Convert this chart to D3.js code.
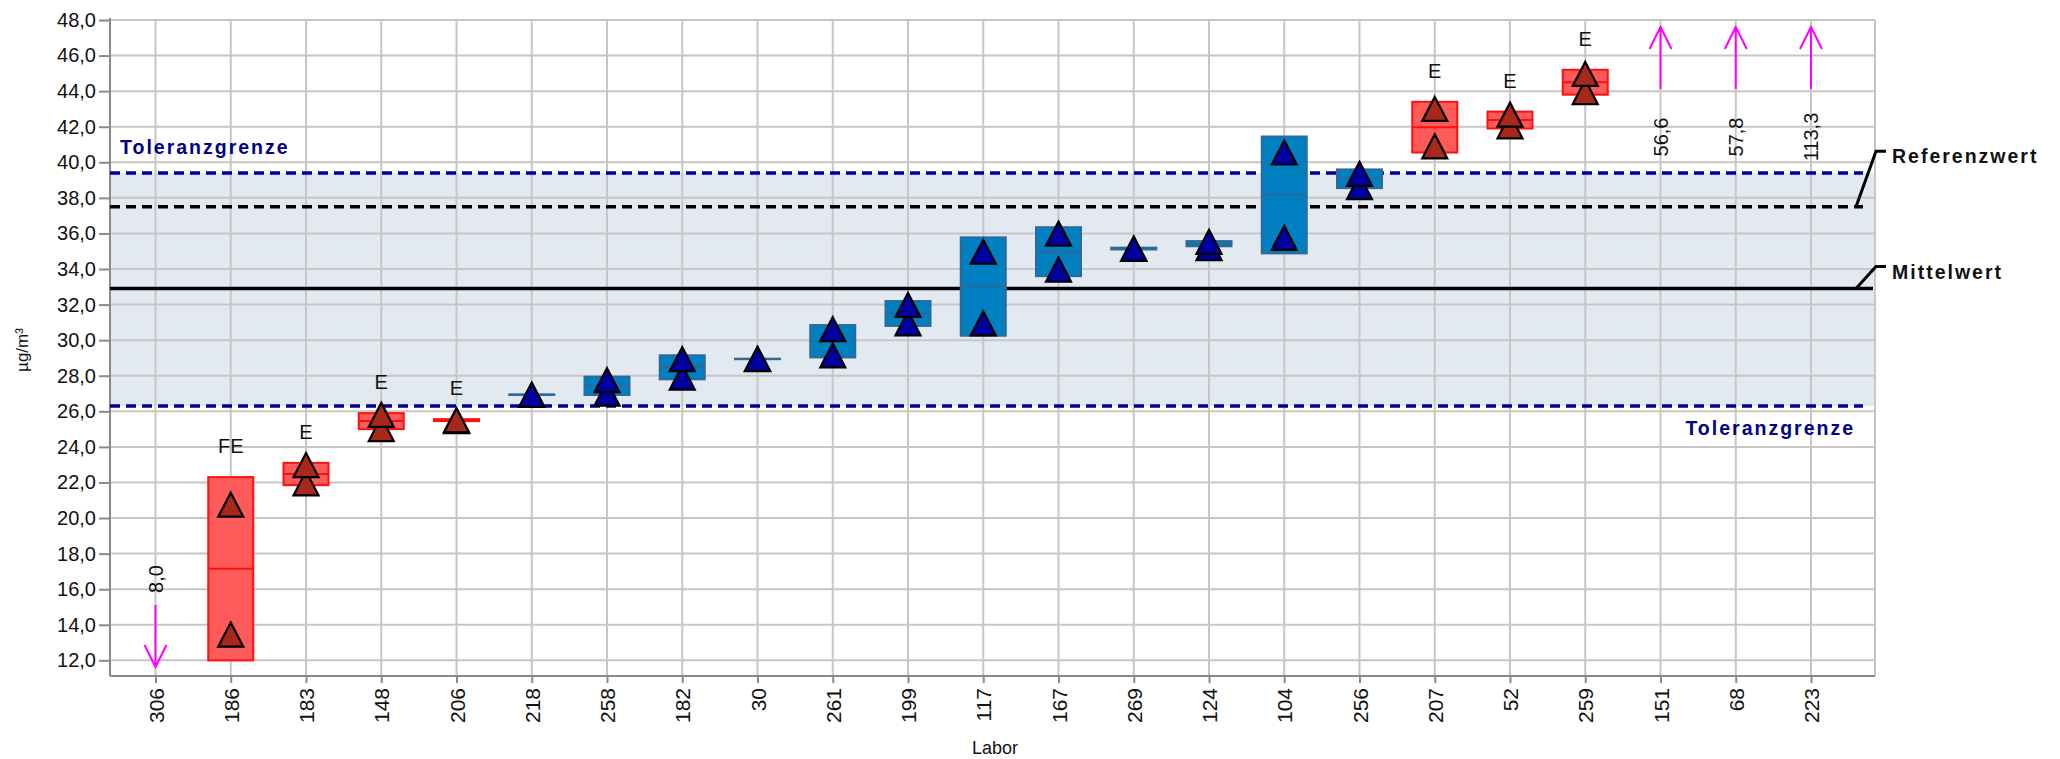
<!DOCTYPE html>
<html>
<head>
<meta charset="utf-8">
<script src="https://cdn.jsdelivr.net/npm/d3@7"></script>
<style>
  html, body { margin: 0; padding: 0; background: #fff; }
  text { font-family: "Liberation Sans", Arial, sans-serif; }
</style>
</head>
<body>
<svg id="chart" width="2060" height="759"></svg>
<script>
// Laboratories in plotted order
const labs = ["306","186","183","148","206","218","258","182","30","261","199","117","167","269","124","104","256","207","52","259","151","68","223"];
// Two single results per laboratory (null = off scale)
const resultA = [null,20.75,22.98,25.8,25.5,26.93,27.75,28.93,28.95,30.62,31.98,34.97,35.99,35.15,35.53,40.55,39.35,43.0,42.68,44.97,null,null,null];
const resultB = [null,13.45,21.95,25.0,25.45,26.93,27.0,27.9,28.94,29.15,30.95,30.94,33.97,35.13,35.18,35.75,38.6,40.9,42.02,43.95,null,null,null];
// Lower / upper end of each laboratory box
const boxLow  = [null,12.0,21.85,25.0,25.45,26.92,26.92,27.8,28.93,29.03,30.8,30.25,33.6,35.1,35.28,34.88,38.55,40.55,41.9,43.8,null,null,null];
const boxHigh = [null,22.3,23.1,25.9,25.56,26.95,27.95,29.15,28.96,30.85,32.2,35.78,36.35,35.2,35.57,41.45,39.6,43.4,42.85,45.2,null,null,null];
// Flags shown above the box
const flags = ["","FE","E","E","E","","","","","","","","","","","","","E","E","E","","",""];
// Off-scale results, drawn as arrows with their value
const offScale = [8.0,null,null,null,null,null,null,null,null,null,null,null,null,null,null,null,null,null,null,null,56.6,57.8,113.3];
// Reference lines
const mittelwert = 32.9;
const referenzwert = 37.5;
const toleranzUnten = 26.3;
const toleranzOben = 39.4;
// Y axis ticks
const yTicks = [12,14,16,18,20,22,24,26,28,30,32,34,36,38,40,42,44,46,48];

const svg = d3.select("#chart");
const plot = {left: 110, right: 1875, top: 20, bottom: 676};
const lineEnd = 1863;

const x = d3.scalePoint().domain(labs).range([155.5, 1811]);
const y = d3.scaleLinear().domain([11.12, 48]).range([plot.bottom, plot.top]);
const fmt = v => d3.format(".1f")(v).replace(".", ",");

// tolerance band
svg.append("rect")
  .attr("x", plot.left).attr("width", plot.right - plot.left)
  .attr("y", y(toleranzOben)).attr("height", y(toleranzUnten) - y(toleranzOben))
  .attr("fill", "#e3e9f0");

// grid
const grid = svg.append("g").attr("stroke", "#c6c6c6").attr("stroke-width", 2);
grid.selectAll("line.h").data(yTicks).join("line")
  .attr("x1", plot.left).attr("x2", plot.right)
  .attr("y1", d => y(d)).attr("y2", d => y(d));
grid.selectAll("line.v").data(labs).join("line")
  .attr("x1", d => x(d)).attr("x2", d => x(d))
  .attr("y1", plot.top).attr("y2", plot.bottom);
grid.append("line").attr("x1", plot.right).attr("x2", plot.right).attr("y1", plot.top).attr("y2", plot.bottom);

// axes
const yAxis = svg.append("g").attr("transform", `translate(${plot.left},0)`)
  .call(d3.axisLeft(y).tickValues(yTicks).tickFormat(fmt).tickSize(11).tickPadding(3));
yAxis.select(".domain").remove();
yAxis.append("line").attr("x1", 0).attr("x2", 0).attr("y1", plot.top - 2).attr("y2", plot.bottom).attr("stroke", "#8a8a8a").attr("stroke-width", 2);
yAxis.selectAll(".tick line").attr("stroke", "#8a8a8a").attr("stroke-width", 2);
yAxis.selectAll(".tick text").attr("font-size", 20).attr("fill", "#111");

const xAxis = svg.append("g").attr("transform", `translate(0,${plot.bottom})`)
  .call(d3.axisBottom(x).tickSize(7).tickPadding(0));
xAxis.select(".domain").remove();
xAxis.append("line").attr("x1", plot.left).attr("x2", plot.right).attr("y1", 0).attr("y2", 0).attr("stroke", "#8a8a8a").attr("stroke-width", 2);
xAxis.selectAll(".tick line").attr("stroke", "#8a8a8a").attr("stroke-width", 2);
xAxis.selectAll(".tick text")
  .attr("font-size", 21).attr("fill", "#111")
  .attr("text-anchor", "end").attr("dy", null)
  .attr("dominant-baseline", "central")
  .attr("transform", "translate(0,12) rotate(-90)")
  .attr("x", 0).attr("y", 0);

svg.append("text").attr("x", 995).attr("y", 754).attr("text-anchor", "middle")
  .attr("font-size", 18).attr("fill", "#111").text("Labor");
svg.append("text").attr("transform", "translate(28,350) rotate(-90)").attr("text-anchor", "middle")
  .attr("font-size", 17).attr("fill", "#111").text("µg/m³");

// reference lines
svg.append("line").attr("x1", plot.left).attr("x2", lineEnd)
  .attr("y1", y(toleranzOben)).attr("y2", y(toleranzOben))
  .attr("stroke", "#000099").attr("stroke-width", 3.5).attr("stroke-dasharray", "10,6");
svg.append("line").attr("x1", plot.left).attr("x2", lineEnd)
  .attr("y1", y(toleranzUnten)).attr("y2", y(toleranzUnten))
  .attr("stroke", "#000099").attr("stroke-width", 3.5).attr("stroke-dasharray", "10,6");
svg.append("line").attr("x1", plot.left).attr("x2", lineEnd)
  .attr("y1", y(referenzwert)).attr("y2", y(referenzwert))
  .attr("stroke", "#000").attr("stroke-width", 3.5).attr("stroke-dasharray", "10,6");
svg.append("line").attr("x1", plot.left).attr("x2", plot.right - 2)
  .attr("y1", y(mittelwert)).attr("y2", y(mittelwert))
  .attr("stroke", "#000").attr("stroke-width", 3.5);

// labels of the reference lines
const boldLabel = (sel) => sel.attr("font-size", 19.5).attr("font-weight", "bold").attr("letter-spacing", 2);
svg.append("text").attr("x", 120).attr("y", y(toleranzOben) - 19).attr("fill", "#000088").call(boldLabel).text("Toleranzgrenze");
svg.append("text").attr("x", 1855).attr("y", y(toleranzUnten) + 29).attr("text-anchor", "end").attr("fill", "#000088").call(boldLabel).text("Toleranzgrenze");

const leader = (v, rise, label) => {
  const y0 = y(v), y1 = y0 - rise;
  svg.append("polyline")
    .attr("points", `1856,${y0} 1876,${y1} 1886,${y1}`)
    .attr("fill", "none").attr("stroke", "#000").attr("stroke-width", 3);
  svg.append("text").attr("x", 1892).attr("y", y1 + 12).attr("fill", "#111").call(boldLabel).text(label);
};
leader(referenzwert, 55.5, "Referenzwert");
leader(mittelwert, 22, "Mittelwert");

// laboratory boxes and results
const data = labs.map((lab, i) => ({
  lab, a: resultA[i], b: resultB[i], lo: boxLow[i], hi: boxHigh[i], flag: flags[i], off: offScale[i]
}));
const boxW = 45;
const tri = "M0,-12L12.5,12L-12.5,12Z";
const onScale = data.filter(d => d.lo != null);

const g = svg.append("g");
onScale.forEach(d => {
  const red = d.flag.includes("E");
  const cx = x(d.lab);
  const fill = red ? "#ff5a5a" : "#0080c0";
  const stroke = red ? "#ff1010" : "#2c6a98";
  g.append("rect")
    .attr("x", cx - boxW / 2).attr("width", boxW)
    .attr("y", y(d.hi)).attr("height", Math.max(0.5, y(d.lo) - y(d.hi)))
    .attr("fill", fill).attr("stroke", stroke).attr("stroke-width", 2);
  const mid = (d.lo + d.hi) / 2;
  g.append("line").attr("x1", cx - boxW / 2).attr("x2", cx + boxW / 2)
    .attr("y1", y(mid)).attr("y2", y(mid)).attr("stroke", stroke).attr("stroke-width", 2);
  [Math.min(d.a, d.b), Math.max(d.a, d.b)].forEach(v => {
    g.append("path").attr("d", tri)
      .attr("transform", `translate(${cx},${y(v)})`)
      .attr("fill", red ? "#a8291c" : "#0000a0")
      .attr("stroke", "#000").attr("stroke-width", 2.2).attr("stroke-linejoin", "miter");
  });
  if (d.flag) {
    g.append("text").attr("x", cx).attr("y", y(d.hi) - 24).attr("text-anchor", "middle")
      .attr("font-size", 20).attr("fill", "#111").text(d.flag);
  }
});

// off-scale results
const offG = svg.append("g");
data.filter(d => d.off != null).forEach(d => {
  const cx = x(d.lab);
  const low = d.off < y.domain()[0];
  const tip = low ? plot.bottom - 9 : plot.top + 7;
  const tail = low ? tip - 62 : tip + 62;
  const head = low ? -22 : 22;
  offG.append("path")
    .attr("d", `M${cx},${tail}L${cx},${tip}M${cx - 11},${tip + head}L${cx},${tip}L${cx + 11},${tip + head}`)
    .attr("fill", "none").attr("stroke", "#ff00ff").attr("stroke-width", 2);
  const ly = low ? tail - 26 : tail + 48;
  offG.append("text")
    .attr("transform", `translate(${cx},${ly}) rotate(-90)`)
    .attr("text-anchor", "middle").attr("dominant-baseline", "central")
    .attr("font-size", 20).attr("fill", "#111").text(fmt(d.off));
});
</script>
</body>
</html>
